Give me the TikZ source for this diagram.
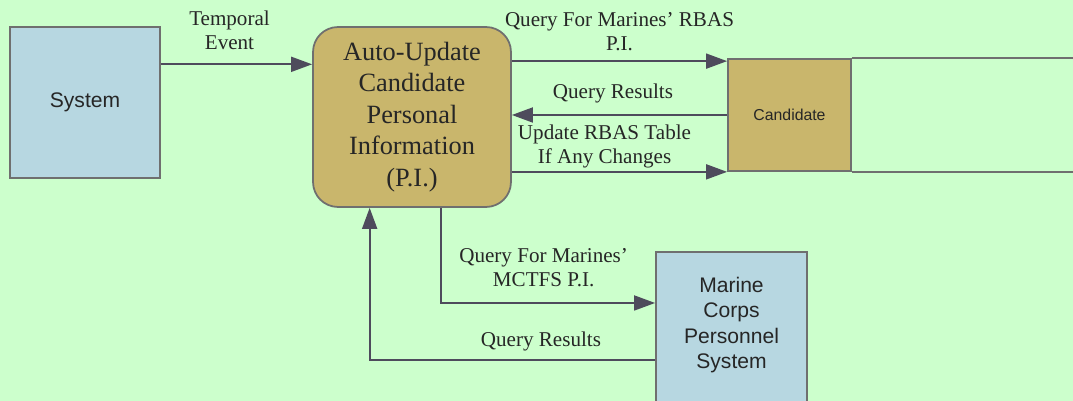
\documentclass[tikz,border=0pt]{standalone}
\usepackage{fontspec}
\setmainfont{Liberation Serif}
\setsansfont{Liberation Sans}
\usetikzlibrary{arrows.meta, calc}
\definecolor{bggreen}{HTML}{CCFFCC}
\definecolor{boxblue}{HTML}{B7D7E1}
\definecolor{boxtan}{HTML}{C9B66C}
\definecolor{edgegray}{HTML}{6F6F6F}
\definecolor{flowgray}{HTML}{4E4B5C}
\definecolor{inkgray}{HTML}{262626}

\begin{document}
\begin{tikzpicture}[
  x=0.02cm, y=-0.02cm,
  extbox/.style   = {rectangle, draw=edgegray, line width=1pt, fill=boxblue,
                     text=inkgray, font=\sffamily\fontsize{12}{14.3}\selectfont,
                     align=center, inner sep=0pt},
  procbox/.style  = {rectangle, rounded corners=0.5cm, draw=edgegray,
                     line width=1pt, fill=boxtan, minimum width=3.96cm,
                     minimum height=3.6cm, text=inkgray,
                     font=\fontsize{15}{18}\selectfont, align=center, inner sep=0pt},
  storebox/.style = {rectangle, draw=edgegray, line width=1pt, fill=boxtan,
                     minimum width=2.46cm, minimum height=2.24cm, text=inkgray,
                     font=\sffamily\fontsize{9}{11}\selectfont, inner sep=0pt},
  flow/.style     = {-{Triangle[length=12pt, width=8.5pt]}, line width=1.2pt, flowgray},
  flowlbl/.style  = {font=\fontsize{12}{13.6}\selectfont, text=inkgray,
                     align=center, inner sep=0pt},
]
  \path[use as bounding box, clip] (0,0) rectangle (1073,401);
  \fill[bggreen] (0,0) rectangle (1073,401);

  % entities and process
  \node[extbox, minimum width=3cm, minimum height=3.02cm] (sys) at (85,102.5) {System};
  \node[procbox] (proc) at (412,117)
    {Auto-Update\\Candidate\\Personal\\Information\\(P.I.)};
  \node[storebox] (cand) at (789.5,115) {Candidate};
  \node[extbox, minimum width=3.02cm, minimum height=3.6cm, anchor=north] (mcps)
    at (731.5,251) {};
  \node[font=\sffamily\fontsize{12}{14.3}\selectfont, text=inkgray, align=center]
    (mcpsText) at (731.5,325) {Marine\\Corps\\Personnel\\System};

  % data store rails
  \draw[edgegray, line width=1pt] (cand.north east) -- ++(250,0);
  \draw[edgegray, line width=1pt] (cand.south east) -- ++(250,0);

  % helper points
  \coordinate (sysOut)  at ($(sys.north east)!0.25!(sys.south east)$);
  \coordinate (candIn)  at ([yshift=-0.06cm]cand.north west);
  \coordinate (pOut)    at ($(proc.south west)!0.646!(proc.south east)$);
  \coordinate (pIn)     at ($(proc.south west)!0.288!(proc.south east)$);
  \coordinate (mcpsIn)  at ([yshift=-1.04cm]mcps.north west);
  \coordinate (mcpsOut) at ([yshift=-2.18cm]mcps.north west);

  % flows
  \draw[flow] (sysOut) -- node[flowlbl, above=0.28cm, xshift=-0.14cm]
    {Temporal\\Event} (sysOut -| proc.west);
  \draw[flow] (proc.east |- candIn) -- node[flowlbl, above=0.18cm]
    {Query For Marines' RBAS\\P.I.} (candIn);
  \draw[flow] (cand.west) -- node[flowlbl, above=0.22cm, xshift=-0.13cm]
    {Query Results} (cand.west -| proc.east);
  \draw[flow] (proc.east |- cand.south west) -- node[flowlbl, above=0.06cm, xshift=-0.3cm]
    {Update RBAS Table\\If Any Changes} (cand.south west);
  \draw[flow] (pOut) |- node[flowlbl, pos=0.75, above=0.3cm, xshift=-0.09cm]
    {Query For Marines'\\MCTFS P.I.} (mcpsIn);
  \draw[flow] (mcpsOut) -| node[flowlbl, pos=0.2, above=0.16cm]
    {Query Results} (pIn);
\end{tikzpicture}
\end{document}
